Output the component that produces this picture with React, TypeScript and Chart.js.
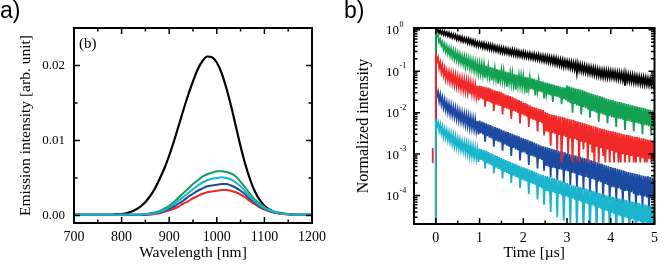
import React, { useEffect, useRef } from 'react';
import { Chart, registerables } from 'chart.js';

Chart.register(...registerables);

// ---------- Panel a: emission spectra ----------
const wavelengths = [700, 710, 720, 730, 740, 750, 760, 770, 780, 790, 800, 810, 820, 830, 840, 850, 860, 870, 880, 890, 900, 910, 920, 930, 940, 950, 960, 970, 980, 990, 1000, 1010, 1020, 1030, 1040, 1050, 1060, 1070, 1080, 1090, 1100, 1110, 1120, 1130, 1140, 1150, 1160, 1170, 1180, 1190, 1200];

const spectrumBlack = [0.0001, 0.0001, 0.0001, 0.0001, 0.0001, 0.0001, 0.0001, 0.0001, 0.0001, 0.0002, 0.0002, 0.0003, 0.0005, 0.0008, 0.0012, 0.0018, 0.0026, 0.0036, 0.0049, 0.0063, 0.0080, 0.0099, 0.0120, 0.0141, 0.0161, 0.0179, 0.0195, 0.0206, 0.0212, 0.0211, 0.0204, 0.0190, 0.0170, 0.0146, 0.0119, 0.0092, 0.0068, 0.0048, 0.0032, 0.0021, 0.0013, 0.0008, 0.0005, 0.0003, 0.0002, 0.0002, 0.0001, 0.0001, 0.0001, 0.0001, 0.0001];
const spectrumGreen = [0.0001, 0.0001, 0.0001, 0.0001, 0.0001, 0.0001, 0.0001, 0.0001, 0.0001, 0.0001, 0.0001, 0.0001, 0.0001, 0.0001, 0.0001, 0.0002, 0.0003, 0.0004, 0.0006, 0.0009, 0.0013, 0.0018, 0.0024, 0.0030, 0.0036, 0.0042, 0.0047, 0.0052, 0.0055, 0.0057, 0.0059, 0.0059, 0.0058, 0.0056, 0.0052, 0.0045, 0.0037, 0.0029, 0.0021, 0.0016, 0.0011, 0.0008, 0.0005, 0.0004, 0.0003, 0.0002, 0.0002, 0.0001, 0.0001, 0.0001, 0.0001];
const spectrumCyan = [0.0001, 0.0001, 0.0001, 0.0001, 0.0001, 0.0001, 0.0001, 0.0001, 0.0001, 0.0001, 0.0001, 0.0001, 0.0001, 0.0001, 0.0001, 0.0002, 0.0002, 0.0003, 0.0005, 0.0007, 0.0011, 0.0015, 0.0020, 0.0025, 0.0030, 0.0035, 0.0040, 0.0044, 0.0047, 0.0049, 0.0050, 0.0051, 0.0050, 0.0048, 0.0044, 0.0039, 0.0032, 0.0025, 0.0019, 0.0014, 0.0010, 0.0007, 0.0005, 0.0003, 0.0002, 0.0002, 0.0001, 0.0001, 0.0001, 0.0001, 0.0001];
const spectrumBlue = [0.0001, 0.0001, 0.0001, 0.0001, 0.0001, 0.0001, 0.0001, 0.0001, 0.0001, 0.0001, 0.0001, 0.0001, 0.0001, 0.0001, 0.0001, 0.0001, 0.0002, 0.0003, 0.0004, 0.0006, 0.0009, 0.0012, 0.0016, 0.0020, 0.0025, 0.0029, 0.0033, 0.0036, 0.0039, 0.0040, 0.0041, 0.0042, 0.0042, 0.0040, 0.0037, 0.0033, 0.0028, 0.0022, 0.0017, 0.0012, 0.0009, 0.0006, 0.0004, 0.0003, 0.0002, 0.0002, 0.0001, 0.0001, 0.0001, 0.0001, 0.0001];
const spectrumRed = [0.0001, 0.0001, 0.0001, 0.0001, 0.0001, 0.0001, 0.0001, 0.0001, 0.0001, 0.0001, 0.0001, 0.0001, 0.0001, 0.0001, 0.0001, 0.0001, 0.0001, 0.0002, 0.0003, 0.0005, 0.0007, 0.0009, 0.0012, 0.0016, 0.0019, 0.0023, 0.0026, 0.0029, 0.0031, 0.0032, 0.0033, 0.0034, 0.0034, 0.0033, 0.0031, 0.0028, 0.0024, 0.0019, 0.0015, 0.0011, 0.0008, 0.0006, 0.0004, 0.0003, 0.0002, 0.0001, 0.0001, 0.0001, 0.0001, 0.0001, 0.0001];

const aXTicks = [700, 800, 900, 1000, 1100, 1200];
const aXMinor = [750, 850, 950, 1050, 1150];
const aYTicks = [0, 0.01, 0.02];
const aYMinor = [0.005, 0.015];

// ---------- Panel b: decay curves (sampled every 0.025 µs) ----------
const decayTimes = [
  0, 0.025, 0.05, 0.075, 0.1, 0.125, 0.15, 0.175, 0.2, 0.225, 0.25, 0.275, 0.3, 0.325, 0.35, 0.375, 0.4, 0.425, 0.45, 0.475,
  0.5, 0.525, 0.55, 0.575, 0.6, 0.625, 0.65, 0.675, 0.7, 0.725, 0.75, 0.775, 0.8, 0.825, 0.85, 0.875, 0.9, 0.925, 0.95, 0.975,
  1.0, 1.025, 1.05, 1.075, 1.1, 1.125, 1.15, 1.175, 1.2, 1.225, 1.25, 1.275, 1.3, 1.325, 1.35, 1.375, 1.4, 1.425, 1.45, 1.475,
  1.5, 1.525, 1.55, 1.575, 1.6, 1.625, 1.65, 1.675, 1.7, 1.725, 1.75, 1.775, 1.8, 1.825, 1.85, 1.875, 1.9, 1.925, 1.95, 1.975,
  2.0, 2.025, 2.05, 2.075, 2.1, 2.125, 2.15, 2.175, 2.2, 2.225, 2.25, 2.275, 2.3, 2.325, 2.35, 2.375, 2.4, 2.425, 2.45, 2.475,
  2.5, 2.525, 2.55, 2.575, 2.6, 2.625, 2.65, 2.675, 2.7, 2.725, 2.75, 2.775, 2.8, 2.825, 2.85, 2.875, 2.9, 2.925, 2.95, 2.975,
  3.0, 3.025, 3.05, 3.075, 3.1, 3.125, 3.15, 3.175, 3.2, 3.225, 3.25, 3.275, 3.3, 3.325, 3.35, 3.375, 3.4, 3.425, 3.45, 3.475,
  3.5, 3.525, 3.55, 3.575, 3.6, 3.625, 3.65, 3.675, 3.7, 3.725, 3.75, 3.775, 3.8, 3.825, 3.85, 3.875, 3.9, 3.925, 3.95, 3.975,
  4.0, 4.025, 4.05, 4.075, 4.1, 4.125, 4.15, 4.175, 4.2, 4.225, 4.25, 4.275, 4.3, 4.325, 4.35, 4.375, 4.4, 4.425, 4.45, 4.475,
  4.5, 4.525, 4.55, 4.575, 4.6, 4.625, 4.65, 4.675, 4.7, 4.725, 4.75, 4.775, 4.8, 4.825, 4.85, 4.875, 4.9, 4.925, 4.95, 4.975,
  5.0];

const decayBlack = [
  1.0, 0.90, 1.0, 0.83, 0.97, 0.80, 0.93, 0.76, 0.90, 0.74, 0.86, 0.71, 0.84, 0.68, 0.80, 0.65, 0.77, 0.63, 0.74, 0.58,
  0.70, 0.57, 0.68, 0.54, 0.66, 0.52, 0.63, 0.51, 0.61, 0.48, 0.60, 0.47, 0.57, 0.45, 0.55, 0.43, 0.53, 0.41, 0.50, 0.40,
  0.49, 0.39, 0.48, 0.37, 0.47, 0.36, 0.45, 0.35, 0.44, 0.34, 0.43, 0.33, 0.42, 0.32, 0.40, 0.31, 0.39, 0.30, 0.38, 0.29,
  0.37, 0.28, 0.36, 0.275, 0.35, 0.27, 0.34, 0.26, 0.33, 0.255, 0.33, 0.25, 0.32, 0.24, 0.31, 0.235, 0.30, 0.23, 0.29, 0.225,
  0.29, 0.22, 0.28, 0.215, 0.27, 0.21, 0.27, 0.205, 0.26, 0.20, 0.26, 0.195, 0.25, 0.19, 0.25, 0.185, 0.24, 0.18, 0.235, 0.175,
  0.23, 0.17, 0.225, 0.165, 0.22, 0.16, 0.215, 0.155, 0.21, 0.15, 0.205, 0.145, 0.195, 0.14, 0.19, 0.135, 0.185, 0.13, 0.18, 0.13,
  0.175, 0.125, 0.17, 0.12, 0.165, 0.115, 0.16, 0.11, 0.155, 0.09, 0.15, 0.105, 0.145, 0.10, 0.14, 0.097, 0.135, 0.094, 0.13, 0.09,
  0.127, 0.088, 0.123, 0.085, 0.12, 0.082, 0.116, 0.079, 0.112, 0.077, 0.108, 0.074, 0.105, 0.072, 0.104, 0.071, 0.103, 0.07, 0.101, 0.07,
  0.10, 0.07, 0.098, 0.068, 0.096, 0.066, 0.094, 0.064, 0.092, 0.063, 0.09, 0.061, 0.088, 0.045, 0.086, 0.059, 0.084, 0.057, 0.082, 0.056,
  0.08, 0.054, 0.078, 0.053, 0.076, 0.052, 0.074, 0.05, 0.072, 0.049, 0.071, 0.048, 0.069, 0.047, 0.067, 0.046, 0.066, 0.045, 0.064, 0.044,
  0.062];

const decayGreen = [
  1.0, 0.70, 0.72, 0.50, 0.58, 0.42, 0.50, 0.34, 0.44, 0.30, 0.40, 0.27, 0.36, 0.24, 0.34, 0.22, 0.31, 0.20, 0.29, 0.19,
  0.27, 0.17, 0.25, 0.16, 0.23, 0.15, 0.22, 0.13, 0.21, 0.135, 0.20, 0.12, 0.185, 0.115, 0.175, 0.105, 0.165, 0.10, 0.155, 0.09,
  0.15, 0.088, 0.145, 0.082, 0.14, 0.07, 0.135, 0.077, 0.13, 0.074, 0.125, 0.06, 0.12, 0.068, 0.115, 0.066, 0.112, 0.05, 0.108, 0.062,
  0.105, 0.06, 0.102, 0.056, 0.098, 0.042, 0.094, 0.053, 0.09, 0.05, 0.088, 0.048, 0.085, 0.036, 0.082, 0.046, 0.079, 0.044, 0.077, 0.042,
  0.075, 0.041, 0.073, 0.03, 0.071, 0.039, 0.069, 0.037, 0.067, 0.036, 0.065, 0.026, 0.062, 0.034, 0.06, 0.032, 0.058, 0.031, 0.056, 0.022,
  0.054, 0.029, 0.052, 0.027, 0.05, 0.026, 0.049, 0.018, 0.047, 0.025, 0.045, 0.024, 0.044, 0.023, 0.042, 0.016, 0.041, 0.021, 0.04, 0.02,
  0.045, 0.018, 0.043, 0.017, 0.041, 0.01, 0.04, 0.016, 0.038, 0.015, 0.037, 0.0145, 0.036, 0.009, 0.035, 0.0135, 0.033, 0.013, 0.032, 0.012,
  0.03, 0.0075, 0.029, 0.011, 0.028, 0.0105, 0.027, 0.01, 0.026, 0.006, 0.025, 0.0095, 0.024, 0.009, 0.023, 0.0087, 0.022, 0.0055, 0.021, 0.0082,
  0.0205, 0.0078, 0.02, 0.0076, 0.019, 0.0045, 0.0185, 0.0072, 0.018, 0.007, 0.0175, 0.0068, 0.017, 0.0038, 0.0163, 0.0064, 0.016, 0.0062, 0.0155, 0.006,
  0.015, 0.0035, 0.0145, 0.0057, 0.014, 0.0055, 0.0137, 0.0053, 0.0133, 0.003, 0.013, 0.005, 0.0125, 0.0049, 0.012, 0.0047, 0.0117, 0.0028, 0.0114, 0.0044,
  0.011];

const decayRed = [
  0.27, 0.17, 0.21, 0.12, 0.16, 0.095, 0.135, 0.08, 0.115, 0.066, 0.10, 0.062, 0.095, 0.056, 0.088, 0.052, 0.083, 0.048, 0.078, 0.044,
  0.072, 0.042, 0.068, 0.038, 0.065, 0.036, 0.061, 0.034, 0.058, 0.032, 0.055, 0.028, 0.052, 0.029, 0.049, 0.027, 0.046, 0.025, 0.044, 0.02,
  0.045, 0.022, 0.044, 0.021, 0.042, 0.014, 0.041, 0.019, 0.04, 0.018, 0.038, 0.017, 0.036, 0.011, 0.034, 0.0155, 0.033, 0.015, 0.032, 0.0145,
  0.031, 0.009, 0.029, 0.013, 0.027, 0.0125, 0.026, 0.012, 0.025, 0.007, 0.024, 0.011, 0.022, 0.0105, 0.021, 0.0098, 0.02, 0.0055, 0.019, 0.009,
  0.0175, 0.0085, 0.017, 0.008, 0.016, 0.0045, 0.015, 0.0072, 0.014, 0.0068, 0.0135, 0.0065, 0.013, 0.0035, 0.0125, 0.006, 0.012, 0.0056, 0.0115, 0.0028,
  0.0105, 0.0035, 0.0098, 0.0034, 0.0093, 0.0016, 0.009, 0.0032, 0.0087, 0.0031, 0.0085, 0.0012, 0.0082, 0.0029, 0.008, 0.00063, 0.0078, 0.0027, 0.0075, 0.0026,
  0.0072, 0.001, 0.007, 0.0024, 0.0068, 0.00063, 0.0066, 0.0023, 0.0063, 0.0022, 0.0061, 0.00063, 0.0059, 0.002, 0.0057, 0.0013, 0.0055, 0.0019, 0.0053, 0.00063,
  0.0051, 0.0017, 0.0049, 0.0011, 0.0047, 0.00063, 0.0046, 0.0015, 0.0044, 0.00063, 0.0042, 0.0014, 0.0041, 0.0009, 0.004, 0.00063, 0.0038, 0.0013, 0.0037, 0.00063,
  0.0036, 0.0012, 0.0035, 0.00063, 0.0034, 0.0011, 0.0033, 0.00063, 0.0032, 0.00063, 0.0031, 0.001, 0.003, 0.00063, 0.0029, 0.00095, 0.0029, 0.00063, 0.0028, 0.0009,
  0.0027, 0.00063, 0.0026, 0.00063, 0.0026, 0.00085, 0.0025, 0.00063, 0.0024, 0.0008, 0.0024, 0.00063, 0.0023, 0.00063, 0.0022, 0.00075, 0.0022, 0.00063, 0.0021, 0.0007,
  0.0021];

const decayBlue = [
  0.039, 0.025, 0.032, 0.019, 0.027, 0.016, 0.023, 0.0135, 0.02, 0.0118, 0.0175, 0.0105, 0.016, 0.0095, 0.0148, 0.0088, 0.0135, 0.008, 0.0125, 0.0072,
  0.0115, 0.0066, 0.0106, 0.0062, 0.0098, 0.0058, 0.0092, 0.0052, 0.0087, 0.0049, 0.0082, 0.0044, 0.0076, 0.0043, 0.0071, 0.004, 0.0067, 0.0037, 0.0063, 0.003,
  0.0064, 0.0032, 0.0061, 0.003, 0.0058, 0.002, 0.0055, 0.0027, 0.0052, 0.0025, 0.005, 0.0024, 0.0047, 0.0015, 0.0045, 0.0021, 0.0043, 0.002, 0.0041, 0.0019,
  0.0039, 0.0012, 0.0037, 0.0017, 0.0035, 0.0016, 0.0034, 0.0015, 0.0032, 0.0009, 0.0031, 0.0014, 0.0029, 0.0013, 0.0028, 0.00125, 0.0027, 0.0007, 0.0025, 0.0011,
  0.0024, 0.0011, 0.0023, 0.001, 0.0022, 0.00055, 0.0021, 0.00092, 0.002, 0.00088, 0.0019, 0.00084, 0.0018, 0.00045, 0.0017, 0.00076, 0.0016, 0.00072, 0.00155, 0.0004,
  0.0015, 0.00052, 0.00145, 0.0005, 0.0014, 0.00028, 0.00135, 0.00047, 0.0013, 0.00046, 0.00125, 0.00024, 0.0012, 0.00043, 0.00117, 0.00042, 0.00114, 0.0002, 0.0011, 0.0004,
  0.00105, 0.00038, 0.001, 0.00018, 0.00098, 0.00035, 0.00095, 0.00034, 0.00092, 0.00016, 0.00089, 0.00031, 0.00086, 0.0003, 0.00083, 0.00014, 0.0008, 0.00028, 0.00077, 0.00027,
  0.00074, 0.00012, 0.00071, 0.00025, 0.00069, 0.00024, 0.00066, 0.0001, 0.00063, 0.00022, 0.0006, 0.00021, 0.00058, 0.00009, 0.00055, 0.00019, 0.00053, 0.00018, 0.00051, 0.00008,
  0.00049, 0.00016, 0.00047, 0.00016, 0.00046, 0.00007, 0.00044, 0.00015, 0.00043, 0.00014, 0.00041, 0.000065, 0.0004, 0.00013, 0.00038, 0.00013, 0.00037, 0.00006, 0.00036, 0.00012,
  0.00035, 0.00011, 0.00034, 0.000055, 0.00033, 0.0001, 0.00032, 0.0001, 0.00031, 0.00005, 0.0003, 0.000095, 0.00029, 0.00009, 0.00029, 0.000045, 0.00028, 0.000085, 0.00027, 0.00008,
  0.00027];

const decayCyan = [
  0.0068, 0.0046, 0.0058, 0.0037, 0.0051, 0.0032, 0.0045, 0.0027, 0.004, 0.0025, 0.0036, 0.0022, 0.0033, 0.002, 0.003, 0.0018, 0.0028, 0.0016, 0.0026, 0.0015,
  0.0023, 0.0014, 0.0022, 0.0013, 0.002, 0.0012, 0.0019, 0.0011, 0.0018, 0.00105, 0.0017, 0.00095, 0.0016, 0.0009, 0.0015, 0.00085, 0.0014, 0.0008, 0.0013, 0.00065,
  0.00135, 0.00072, 0.0013, 0.00068, 0.00125, 0.00045, 0.0012, 0.0006, 0.00112, 0.00056, 0.00106, 0.00053, 0.001, 0.00034, 0.00095, 0.00047, 0.0009, 0.00044, 0.00085, 0.00042,
  0.0008, 0.00026, 0.00076, 0.00037, 0.00072, 0.00035, 0.00068, 0.00033, 0.00065, 0.0002, 0.00062, 0.0003, 0.00059, 0.00028, 0.00056, 0.00027, 0.00053, 0.00015, 0.0005, 0.00024,
  0.00048, 0.00023, 0.00046, 0.00022, 0.00044, 0.00011, 0.00042, 0.0002, 0.0004, 0.00019, 0.00038, 0.00018, 0.00036, 0.00008, 0.00034, 0.00016, 0.00032, 0.00015, 0.00031, 0.00006,
  0.0003, 0.00013, 0.00029, 0.000125, 0.00028, 0.00004, 0.00027, 0.00012, 0.00026, 0.000115, 0.00025, 0.00003, 0.00024, 0.00011, 0.00023, 0.0001, 0.00022, 0.000025, 0.00021, 0.000095,
  0.0002, 0.00009, 0.00019, 0.00002, 0.00018, 0.000085, 0.000175, 0.00008, 0.00017, 0.000015, 0.000165, 0.000075, 0.00016, 0.00007, 0.000155, 0.000012, 0.00015, 0.000065, 0.000145, 0.000062,
  0.00014, 0.00001, 0.000135, 0.000058, 0.00013, 0.000055, 0.000125, 0.00001, 0.00012, 0.00005, 0.000115, 0.000048, 0.00011, 0.00001, 0.000106, 0.000044, 0.000102, 0.000042, 0.000099, 0.00001,
  0.000096, 0.000038, 0.000093, 0.000036, 0.00009, 0.00001, 0.000087, 0.000033, 0.000085, 0.000032, 0.000082, 0.00001, 0.00008, 0.00003, 0.000078, 0.000029, 0.000076, 0.00001, 0.000074, 0.000027,
  0.000072, 0.000026, 0.00007, 0.00001, 0.000068, 0.000024, 0.000066, 0.000023, 0.000064, 0.00001, 0.000062, 0.000022, 0.00006, 0.000021, 0.000058, 0.00001, 0.000056, 0.00002, 0.000055, 0.00002,
  0.000054];

// signal level before the excitation pulse (below the visible axis range)
const preTime = -0.003;
const preLevel = 1e-6;
// short red background trace before t = 0
const redPreTimes = [-0.076, -0.073, -0.07];
const redPreValues = [0.00063, 0.0014, 0.00063];

const bXTicks = [0, 1, 2, 3, 4, 5];
const bXMinor = [0.5, 1.5, 2.5, 3.5, 4.5];
const bYTicks = [1, 0.1, 0.01, 0.001, 0.0001];
const bYExponents = ['0', '-1', '-2', '-3', '-4'];
const bYMinor = [
  0.00003, 0.00004, 0.00005, 0.00006, 0.00007, 0.00008, 0.00009,
  0.0002, 0.0003, 0.0004, 0.0005, 0.0006, 0.0007, 0.0008, 0.0009,
  0.002, 0.003, 0.004, 0.005, 0.006, 0.007, 0.008, 0.009,
  0.02, 0.03, 0.04, 0.05, 0.06, 0.07, 0.08, 0.09,
  0.2, 0.3, 0.4, 0.5, 0.6, 0.7, 0.8, 0.9,
];

const COLORS = {
  black: '#000000',
  green: '#12a150',
  red: '#f02828',
  blue: '#1c4aa0',
  cyan: '#1ab4cc',
};

const SERIF = '"Liberation Serif", "Times New Roman", serif';
const SANS = '"Liberation Sans", Arial, sans-serif';

function pts(xs: number[], ys: (number | null)[]) {
  return xs.map((x, i) => ({ x, y: ys[i] }));
}

function framePlugin(cfg: {
  xMajor: number[]; xMinor: number[]; yMajor: number[]; yMinor: number[];
  majorLen: number; minorLen: number; extra?: (chart: any) => void;
}) {
  return {
    id: 'frameTicks',
    afterDatasetsDraw(chart: any) {
      const { ctx, chartArea: a, scales } = chart;
      const xs = scales.x;
      const ys = scales.y;
      ctx.save();
      ctx.strokeStyle = '#000';
      ctx.lineWidth = 1.5;
      ctx.beginPath();
      const xt = (vals: number[], len: number) => {
        for (const v of vals) {
          const p = xs.getPixelForValue(v);
          ctx.moveTo(p, a.bottom); ctx.lineTo(p, a.bottom - len);
          ctx.moveTo(p, a.top); ctx.lineTo(p, a.top + len);
        }
      };
      const yt = (vals: number[], len: number) => {
        for (const v of vals) {
          const p = ys.getPixelForValue(v);
          ctx.moveTo(a.left, p); ctx.lineTo(a.left + len, p);
          ctx.moveTo(a.right, p); ctx.lineTo(a.right - len, p);
        }
      };
      xt(cfg.xMajor, cfg.majorLen);
      xt(cfg.xMinor, cfg.minorLen);
      yt(cfg.yMajor, cfg.majorLen);
      yt(cfg.yMinor, cfg.minorLen);
      ctx.stroke();
      ctx.lineWidth = 2;
      ctx.strokeRect(a.left, a.top, a.right - a.left, a.bottom - a.top);
      ctx.restore();
    },
    afterDraw(chart: any) {
      if (cfg.extra) cfg.extra(chart);
    },
  };
}

export default function App() {
  const refA = useRef<HTMLCanvasElement>(null);
  const refB = useRef<HTMLCanvasElement>(null);

  useEffect(() => {
    document.body.style.margin = '0';
    if (!refA.current || !refB.current) return;

    const lineDS = (label: string, color: string, data: any[], width: number) => ({
      label, data, borderColor: color, backgroundColor: color, borderWidth: width,
      pointRadius: 0, fill: false, clip: 0,
    });

    // Chart.js paints the first dataset on top, so the lists run top-most first.
    const chartA = new Chart(refA.current, {
      type: 'line',
      data: {
        datasets: [
          { ...lineDS('cyan', COLORS.cyan, pts(wavelengths, spectrumCyan), 2), cubicInterpolationMode: 'monotone' },
          { ...lineDS('blue', COLORS.blue, pts(wavelengths, spectrumBlue), 2), cubicInterpolationMode: 'monotone' },
          { ...lineDS('red', COLORS.red, pts(wavelengths, spectrumRed), 2), cubicInterpolationMode: 'monotone' },
          { ...lineDS('green', COLORS.green, pts(wavelengths, spectrumGreen), 2), cubicInterpolationMode: 'monotone' },
          { ...lineDS('black', COLORS.black, pts(wavelengths, spectrumBlack), 2.2), cubicInterpolationMode: 'monotone' },
        ] as any,
      },
      options: {
        responsive: false,
        animation: false,
        layout: { padding: { top: 28, right: 17, left: 0, bottom: 0 } },
        plugins: { legend: { display: false }, tooltip: { enabled: false } },
        scales: {
          x: {
            type: 'linear', min: 700, max: 1200,
            afterBuildTicks: (s: any) => { s.ticks = aXTicks.map((v) => ({ value: v })); },
            afterFit: (s: any) => { s.height = 49; },
            grid: { display: false, drawTicks: false },
            border: { display: false },
            ticks: {
              padding: 6, autoSkip: false, maxRotation: 0, color: '#000',
              font: { family: SERIF, size: 14 },
              callback: (v: any) => String(v),
            },
            title: {
              display: true, text: 'Wavelength [nm]', color: '#000',
              font: { family: SERIF, size: 15.5 }, padding: { top: 0, bottom: 10 },
            },
          },
          y: {
            type: 'linear', min: -0.001, max: 0.025,
            afterBuildTicks: (s: any) => { s.ticks = aYTicks.map((v) => ({ value: v })); },
            afterFit: (s: any) => { s.width = 74; },
            grid: { display: false, drawTicks: false },
            border: { display: false },
            ticks: {
              padding: 9, color: '#000',
              font: { family: SERIF, size: 13 },
              callback: (v: any) => Number(v).toFixed(2),
            },
            title: {
              display: true, text: 'Emission intensity [arb. unit]', color: '#000',
              font: { family: SERIF, size: 15.5 }, padding: { top: 17, bottom: 0 },
            },
          },
        },
      } as any,
      plugins: [framePlugin({
        xMajor: aXTicks, xMinor: aXMinor, yMajor: aYTicks, yMinor: aYMinor,
        majorLen: 6, minorLen: 3.5,
        extra: (chart: any) => {
          const { ctx, chartArea: a } = chart;
          ctx.save();
          ctx.fillStyle = '#000';
          ctx.textAlign = 'left';
          ctx.textBaseline = 'alphabetic';
          ctx.font = `23px ${SANS}`;
          ctx.fillText('a)', 0, 18);
          ctx.font = `15px ${SERIF}`;
          ctx.fillText('(b)', a.left + 5, a.top + 20);
          ctx.restore();
        },
      })],
    });

    const decayDS = (label: string, color: string, values: number[], pre: any[] = []) =>
      lineDS(label, color, [...pre, { x: preTime, y: preLevel }, ...pts(decayTimes, values)], 1.8);

    const redPre = [...pts(redPreTimes, redPreValues), { x: -0.06, y: null }];

    const chartB = new Chart(refB.current, {
      type: 'line',
      data: {
        datasets: [
          decayDS('cyan', COLORS.cyan, decayCyan),
          decayDS('red', COLORS.red, decayRed, redPre),
          decayDS('blue', COLORS.blue, decayBlue),
          decayDS('green', COLORS.green, decayGreen),
          decayDS('black', COLORS.black, decayBlack),
        ] as any,
      },
      options: {
        responsive: false,
        animation: false,
        spanGaps: false,
        layout: { padding: { top: 28, right: 9, left: 0, bottom: 0 } },
        plugins: { legend: { display: false }, tooltip: { enabled: false } },
        scales: {
          x: {
            type: 'linear', min: -0.5, max: 5,
            afterBuildTicks: (s: any) => { s.ticks = bXTicks.map((v) => ({ value: v })); },
            afterFit: (s: any) => { s.height = 48; },
            grid: { display: false, drawTicks: false },
            border: { display: false },
            ticks: {
              padding: 6, autoSkip: false, maxRotation: 0, color: '#000',
              font: { family: SERIF, size: 14 },
              callback: (v: any) => String(v),
            },
            title: {
              display: true, text: 'Time [µs]', color: '#000',
              font: { family: SERIF, size: 15.5 }, padding: { top: 0, bottom: 10 },
            },
          },
          y: {
            type: 'logarithmic', min: 2.06e-5, max: 1.1,
            afterBuildTicks: (s: any) => { s.ticks = bYTicks.map((v) => ({ value: v })); },
            afterFit: (s: any) => { s.width = 82; },
            grid: { display: false, drawTicks: false },
            border: { display: false },
            ticks: { display: false },
            title: {
              display: true, text: 'Normalized intensity', color: '#000',
              font: { family: SERIF, size: 16 }, padding: { top: 22, bottom: 0 },
            },
          },
        },
      } as any,
      plugins: [framePlugin({
        xMajor: bXTicks, xMinor: bXMinor, yMajor: bYTicks, yMinor: bYMinor,
        majorLen: 6, minorLen: 3.5,
        extra: (chart: any) => {
          const { ctx, chartArea: a, scales } = chart;
          ctx.save();
          ctx.fillStyle = '#000';
          ctx.textBaseline = 'alphabetic';
          ctx.font = `23px ${SANS}`;
          ctx.textAlign = 'left';
          ctx.fillText('b)', 12, 18);
          bYTicks.forEach((v, i) => {
            const p = scales.y.getPixelForValue(v);
            ctx.font = `13px ${SERIF}`;
            ctx.textAlign = 'right';
            ctx.fillText('10', a.left - 15, p + 4.5);
            ctx.font = `8px ${SERIF}`;
            ctx.textAlign = 'left';
            ctx.fillText(bYExponents[i], a.left - 14.5, p - 3);
          });
          ctx.restore();
        },
      })],
    });

    return () => {
      chartA.destroy();
      chartB.destroy();
    };
  }, []);

  return (
    <div style={{ display: 'flex', width: 664, height: 272, background: '#fff' }}>
      <canvas ref={refA} width={332} height={272} style={{ display: 'block', width: 332, height: 272 }} />
      <canvas ref={refB} width={332} height={272} style={{ display: 'block', width: 332, height: 272 }} />
    </div>
  );
}
